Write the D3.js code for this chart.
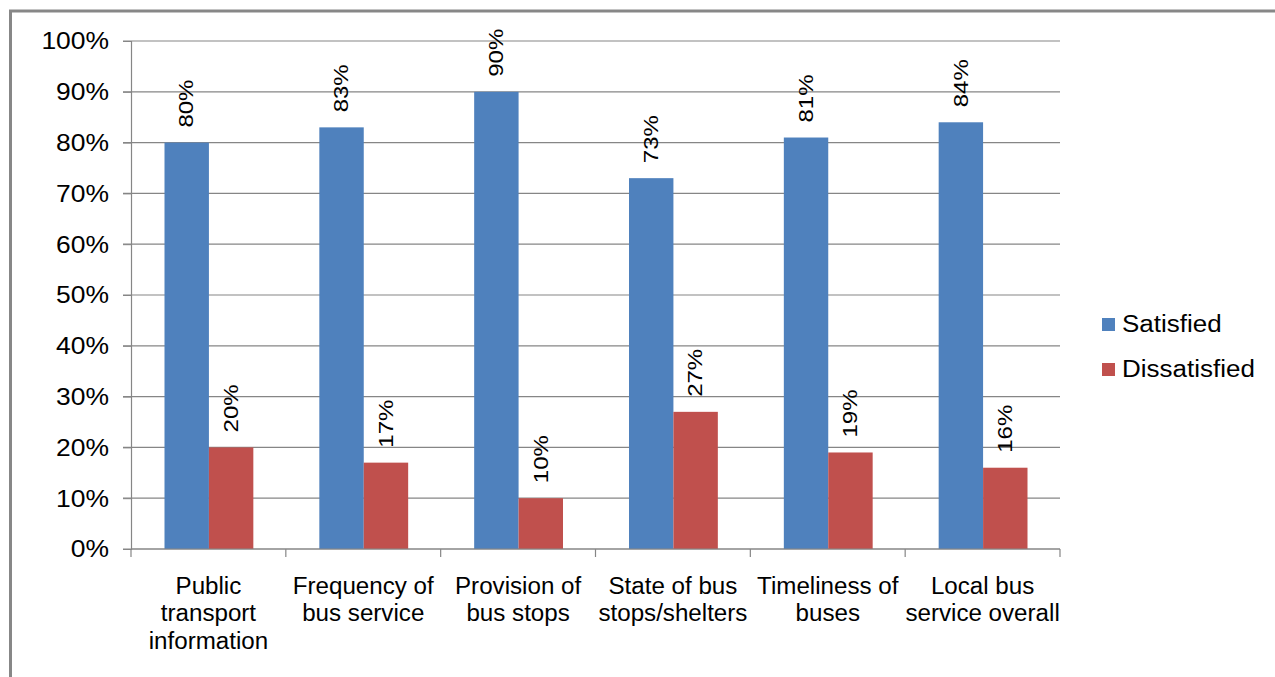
<!DOCTYPE html>
<html><head><meta charset="utf-8">
<script src="https://cdn.jsdelivr.net/npm/d3@7"></script>
<style>body{margin:0;background:#fff}svg{display:block}text{font-family:"Liberation Sans",Arial,sans-serif;fill:#000}</style>
</head><body><svg id="c" width="1275" height="677"></svg>
<script>
const categories = [["Public","transport","information"],["Frequency of","bus service"],["Provision of","bus stops"],["State of bus","stops/shelters"],["Timeliness of","buses"],["Local bus","service overall"]];
const seriesNames = ["Satisfied","Dissatisfied"];
const satisfied = [80,83,90,73,81,84];
const dissatisfied = [20,17,10,27,19,16];
const yTicks = [0,10,20,30,40,50,60,70,80,90,100];
const colors = ["#4F81BD","#C0504D"];

const svg = d3.select("#c");
const L = 131, R = 1060, T = 41, B = 549;
const grid = "#868686";

svg.append("rect").attr("x",10.5).attr("y",11).attr("width",1400).attr("height",800)
  .attr("fill","none").attr("stroke","#878787").attr("stroke-width",3);

const idx = d3.range(categories.length);
const x0 = d3.scaleBand().domain(idx).range([L,R]).paddingInner(0).paddingOuter(0);
const x1 = d3.scaleBand().domain(seriesNames).range([33.5, x0.bandwidth()-32.5]);
const y = d3.scaleLinear().domain([0,100]).range([B,T]);

// gridlines
svg.append("g").selectAll("line").data(yTicks).join("line")
  .attr("x1",L-8).attr("x2",R).attr("y1",d=>y(d)).attr("y2",d=>y(d))
  .attr("stroke",grid).attr("stroke-width",1.2);

// y axis
const yAxis = svg.append("g").attr("transform",`translate(${L},0)`)
  .call(d3.axisLeft(y).tickValues(yTicks).tickSize(8).tickFormat(d=>d+"%"));
yAxis.select(".domain").attr("stroke",grid).attr("stroke-width",1.2);
yAxis.selectAll(".tick line").attr("stroke",grid);
yAxis.selectAll(".tick text").attr("x",0).attr("dy",null).attr("dominant-baseline","central")
  .style("font-size","23px").attr("text-anchor","end")
  .attr("transform","translate(-22,0) scale(1.15,1)");

// bars
const data = idx.map(i=>({i, vals:[satisfied[i],dissatisfied[i]]}));
const groups = svg.append("g").selectAll("g").data(data).join("g")
  .attr("transform",d=>`translate(${x0(d.i)},0)`);
groups.selectAll("rect").data(d=>d.vals.map((v,k)=>({v,k}))).join("rect")
  .attr("x",d=>x1(seriesNames[d.k])).attr("width",x1.bandwidth())
  .attr("y",d=>y(d.v)).attr("height",d=>B-y(d.v)).attr("fill",d=>colors[d.k]);
groups.selectAll("text.v").data(d=>d.vals.map((v,k)=>({v,k}))).join("text").attr("class","v")
  .attr("transform",d=>`translate(${x1(seriesNames[d.k])+x1.bandwidth()/2},${y(d.v)-15}) rotate(-90) scale(1.2,1)`)
  .attr("dominant-baseline","central").style("font-size","20px").text(d=>d.v+"%");

// x axis
const xAxis = svg.append("g").attr("transform",`translate(0,${B})`);
xAxis.append("line").attr("x1",L).attr("x2",R).attr("stroke",grid).attr("stroke-width",1.2);
xAxis.selectAll("line.t").data(d3.range(categories.length+1)).join("line").attr("class","t")
  .attr("x1",d=>L+d*x0.bandwidth()).attr("x2",d=>L+d*x0.bandwidth()).attr("y1",0).attr("y2",8)
  .attr("stroke",grid).attr("stroke-width",1.2);
const cl = svg.append("g").selectAll("text").data(idx).join("text")
  .attr("transform",i=>`translate(${x0(i)+x0.bandwidth()/2},0) scale(1.05,1)`)
  .attr("text-anchor","middle").style("font-size","23px");
cl.selectAll("tspan").data(i=>categories[i]).join("tspan")
  .attr("x",0).attr("y",(d,j)=>594+j*27.5).text(d=>d);

// legend
const lg = svg.append("g").selectAll("g").data(seriesNames).join("g")
  .attr("transform",(d,k)=>`translate(1102,${318+k*45})`);
lg.append("rect").attr("width",13).attr("height",13).attr("fill",(d,k)=>colors[k]);
lg.append("text").attr("transform","translate(20,6.5) scale(1.13,1)").attr("dominant-baseline","central")
  .style("font-size","23px").text(d=>d);
</script></body></html>
